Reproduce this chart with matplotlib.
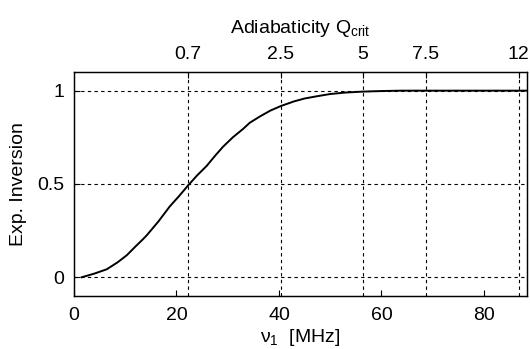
import numpy as np
import matplotlib
matplotlib.use('Agg')
import matplotlib.pyplot as plt

plt.rcParams['font.family'] = ['Liberation Sans', 'DejaVu Sans']
plt.rcParams['mathtext.fontset'] = 'custom'
plt.rcParams['mathtext.rm'] = 'Liberation Sans'
plt.rcParams['mathtext.it'] = 'Liberation Sans:italic'

nu1 = [1.5, 4.0, 6.4, 8.5, 10.3, 12.0, 13.5, 14.2, 16.5, 18.7, 20.5, 22.2,
       24.0, 25.9, 27.5, 29.1, 31.0, 33.0, 34.3, 36.3, 38.3, 40.4, 43.0,
       45.0, 47.4, 50.0, 53.0, 56.4, 60.0, 64.0, 68.0, 72.0, 76.0, 80.0,
       84.0, 88.5]
inversion = [0.0, 0.02, 0.043, 0.08, 0.118, 0.165, 0.205, 0.225, 0.30, 0.38,
             0.435, 0.49, 0.545, 0.597, 0.65, 0.70, 0.75, 0.795, 0.828,
             0.862, 0.893, 0.918, 0.943, 0.958, 0.97, 0.982, 0.99, 0.995,
             0.998, 1.0, 1.0, 1.0, 1.0, 1.0, 1.0, 1.0]

# top axis: adiabaticity Q_crit at the corresponding nu1
q_labels = ['0.7', '2.5', '5', '7.5', '12']
q_pos = [22.2, 40.4, 56.4, 68.6, 86.8]

y_ticks = [0, 0.5, 1]
x_ticks = [0, 20, 40, 60, 80]

fs = 14

fig = plt.figure(figsize=(5.30, 3.49), dpi=100)
ax = fig.add_axes([0.1396, 0.152, 0.8547, 0.6417])

ax.plot(nu1, inversion, color='black', lw=1.4)

for xq in q_pos:
    ax.axvline(xq, color='black', lw=0.8, ls=(0, (3, 3)), zorder=1)
for yv in y_ticks:
    ax.axhline(yv, color='black', lw=0.8, ls=(0, (3, 3)), zorder=1)

ax.set_xlim(0, 88.4)
ax.set_ylim(-0.1, 1.1)
ax.set_xticks(x_ticks)
ax.set_xticklabels([str(v) for v in x_ticks])
ax.set_yticks(y_ticks)
ax.set_yticklabels(['0', '0.5', '1'])
ax.tick_params(direction='in', length=4, width=0.8, labelsize=fs)
ax.tick_params(axis='x', pad=8)
ax.tick_params(axis='y', pad=7)
ax.set_xlabel(r'ν$\mathregular{_1}$  [MHz]', fontsize=fs, labelpad=2)
ax.set_ylabel('Exp. Inversion', fontsize=fs, labelpad=7)

top = ax.twiny()
top.set_xlim(ax.get_xlim())
top.set_xticks(q_pos)
top.set_xticklabels(q_labels)
top.tick_params(direction='in', length=4, width=0.8, labelsize=fs, pad=6.5)
top.set_xlabel(r'Adiabaticity Q$\mathregular{_{crit}}$', fontsize=fs, labelpad=9)

for a in (ax, top):
    for s in a.spines.values():
        s.set_linewidth(0.9)

fig.savefig('out.png', dpi=100)
